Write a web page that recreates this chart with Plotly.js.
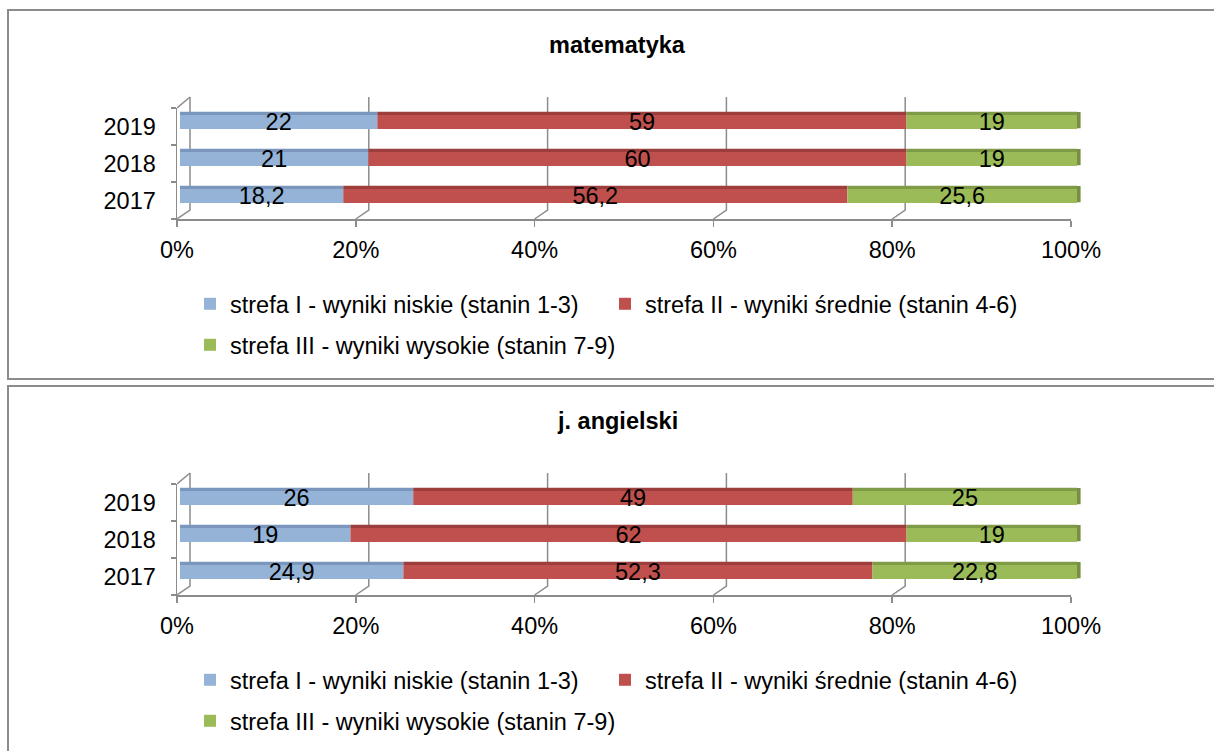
<!DOCTYPE html>
<html><head><meta charset="utf-8">
<script src="https://cdn.plot.ly/plotly-3.0.1.min.js"></script>
<style>html,body{margin:0;padding:0;background:#fff;} #chart{width:1214px;height:751px;}</style>
</head><body><div id="chart"></div>
<script>
// ---- data ----
const years = ['2017', '2018', '2019'];
const seriesNames = [
  'strefa I - wyniki niskie (stanin 1-3)',
  'strefa II - wyniki średnie (stanin 4-6)',
  'strefa III - wyniki wysokie (stanin 7-9)'
];
const mathLow  = [18.2, 21, 22];
const mathMid  = [56.2, 60, 59];
const mathHigh = [25.6, 19, 19];
const engLow   = [24.9, 19, 26];
const engMid   = [52.3, 62, 49];
const engHigh  = [22.8, 19, 25];
const xTickVals = [0, 20, 40, 60, 80, 100];
const xTickText = ['0%', '20%', '40%', '60%', '80%', '100%'];
const panelTitles = ['matematyka', 'j. angielski'];

// ---- styling ----
const W = 1214, H = 751;
const px = v => v / W;
const py = v => 1 - v / H;
const FONT = 'Liberation Sans, Arial, sans-serif';
const FS = 23.5;
const GRAY = '#8c8c8c';
const frontColors = ['#95B3D7', '#C0504D', '#9BBB59'];
const topColors   = ['#7A96BC', '#9C3F3C', '#7F9B47'];
const sideColor = '#768F43';

const traces = [];
const shapes = [];
const annotations = [];
const layout = {
  width: W, height: H,
  margin: {l: 0, r: 0, t: 0, b: 0},
  paper_bgcolor: '#fff', plot_bgcolor: 'rgba(0,0,0,0)',
  barmode: 'overlay',
  font: {family: FONT, size: FS, color: '#000'},
  showlegend: true
};

const fmt = v => String(v).replace('.', ',');

function buildPanel(p, series) {
  const dy = p * 376;
  const n = p * 2;
  const fx = 'x' + (n === 0 ? '' : n + 1);
  const fy = 'y' + (n === 0 ? '' : n + 1);
  const bx = 'x' + (n + 2);
  const by = 'y' + (n + 2);
  const ax = id => id.replace('x', 'xaxis').replace('y', 'yaxis');
  const legRow1 = p === 0 ? 'legend' : 'legend3';
  const legRow2 = p === 0 ? 'legend2' : 'legend4';

  layout[ax(fx)] = {
    domain: [px(177), px(1071)], range: [0, 100], anchor: fy,
    tickvals: xTickVals, ticktext: xTickText,
    ticks: 'outside', ticklen: 6, tickwidth: 1.5, tickcolor: GRAY,
    showline: true, linecolor: GRAY, linewidth: 1.5,
    showgrid: false, zeroline: false, fixedrange: true,
    tickfont: {family: FONT, size: FS, color: '#000'}, ticklabelstandoff: 3
  };
  layout[ax(fy)] = {
    domain: [py(219 + dy), py(108 + dy)], type: 'category', categoryarray: years,
    range: [-0.5, 2.5], anchor: fx,
    ticks: 'outside', ticklen: 5, tickwidth: 1.5, tickcolor: GRAY, tickson: 'boundaries',
    showline: true, linecolor: GRAY, linewidth: 1.5,
    showgrid: false, zeroline: false, fixedrange: true,
    tickfont: {family: FONT, size: FS, color: '#000'}, ticklabelstandoff: 15
  };
  layout[ax(bx)] = {domain: [px(180), px(1081.5)], range: [0, 100.5], anchor: by, visible: false, fixedrange: true};
  layout[ax(by)] = {domain: [py(214.5 + dy), py(103.5 + dy)], type: 'category', categoryarray: years,
    range: [-0.5, 2.5], anchor: bx, visible: false, fixedrange: true};

  // cumulative bases from data
  const bases = [];
  let acc = years.map(() => 0);
  series.forEach(s => { bases.push(acc.slice()); acc = acc.map((a, i) => a + s[i]); });
  const totals = acc;

  series.forEach((vals, k) => {
    // top (3D) face
    traces.push({
      type: 'bar', orientation: 'h', x: vals, y: years, base: bases[k],
      xaxis: bx, yaxis: by, width: 0.085, offset: 0.19,
      marker: {color: topColors[k], line: {width: 0}},
      showlegend: false, hoverinfo: 'skip'
    });
    // front face
    traces.push({
      type: 'bar', orientation: 'h', x: vals, y: years, base: bases[k],
      xaxis: bx, yaxis: by, width: 0.38,
      marker: {color: frontColors[k], line: {width: 0}},
      name: seriesNames[k], legend: k < 2 ? legRow1 : legRow2,
      text: vals.map(fmt), textposition: 'inside', insidetextanchor: 'middle',
      constraintext: 'none', textangle: 0,
      insidetextfont: {family: FONT, size: FS, color: '#000'},
      hoverinfo: 'skip'
    });
  });
  // right side (3D) face of the last segment
  traces.push({
    type: 'bar', orientation: 'h', x: years.map(() => 0.4), y: years, base: totals,
    xaxis: bx, yaxis: by, width: 0.44, offset: -0.17,
    marker: {color: sideColor, line: {width: 0}},
    showlegend: false, hoverinfo: 'skip'
  });

  // legends (two rows)
  const legBase = {
    orientation: 'h', xanchor: 'left', yanchor: 'middle', x: px(190),
    font: {family: FONT, size: FS, color: '#000'}, bgcolor: 'rgba(0,0,0,0)',
    itemclick: false, itemdoubleclick: false
  };
  layout[legRow1] = Object.assign({}, legBase, {y: py(304 + dy), entrywidthmode: 'pixels', entrywidth: 370});
  layout[legRow2] = Object.assign({}, legBase, {y: py(345 + dy)});

  // title
  annotations.push({
    text: '<b>' + panelTitles[p] + '</b>', x: px(617), y: py(45 + dy),
    xref: 'paper', yref: 'paper', showarrow: false, xanchor: 'center', yanchor: 'middle',
    font: {family: FONT, size: FS, color: '#000'}
  });

  // panel border
  shapes.push({type: 'rect', xref: 'paper', yref: 'paper', x0: px(8), x1: 1.05,
    y0: py(p === 0 ? 379 : 790), y1: py(10 + dy), line: {color: GRAY, width: 2}, layer: 'below'});

  // 3D back wall gridlines + floor connectors
  xTickVals.forEach(v => {
    shapes.push({type: 'path', xref: fx, xsizemode: 'pixel', xanchor: v,
      yref: 'paper', ysizemode: 'pixel', yanchor: py(219 + dy),
      path: 'M13,122L13,9L0,0', line: {color: GRAY, width: 1.5}, layer: 'below'});
  });
  shapes.push({type: 'path', xref: fx, xsizemode: 'pixel', xanchor: 0,
    yref: 'paper', ysizemode: 'pixel', yanchor: py(219 + dy),
    path: 'M0,111L13,122', line: {color: GRAY, width: 1.5}, layer: 'below'});
}

buildPanel(0, [mathLow, mathMid, mathHigh]);
buildPanel(1, [engLow, engMid, engHigh]);
layout.shapes = shapes;
layout.annotations = annotations;

Plotly.newPlot('chart', traces, layout, {staticPlot: true, displayModeBar: false});
</script>
</body></html>
